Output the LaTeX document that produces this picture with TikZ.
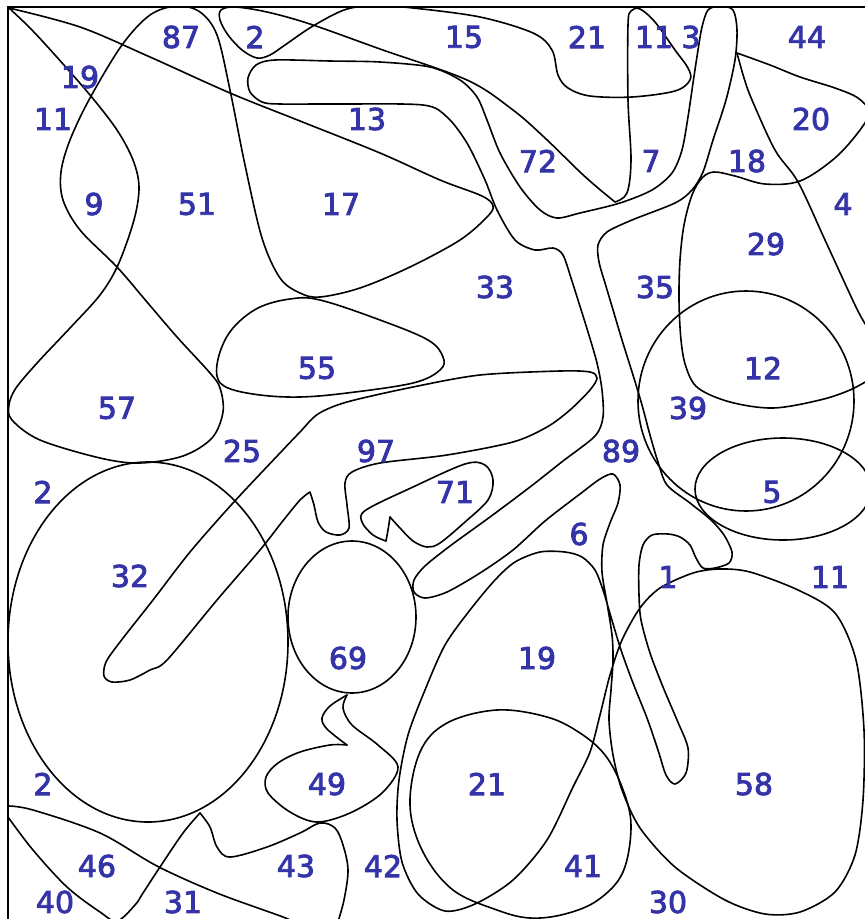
\documentclass[tikz,border=0pt]{standalone}
\usepackage{fontspec}
\setmainfont{DejaVu Sans}
\newfontfamily\labfont{DejaVu Sans}[FakeBold=2.8]
\definecolor{lbl}{RGB}{52,52,168}
\begin{document}
\begin{tikzpicture}[x=1pt,y=-1pt,
  curve/.style={line width=1.6pt, line join=round, line cap=round},
  lab/.style={text=lbl, font=\labfont\fontsize{30}{30}\selectfont, inner sep=0pt}]
\useasboundingbox (0,0) rectangle (865,919);
\fill[white] (0,0) rectangle (865,919);
\begin{scope}
\clip (8,7) rectangle (866,921);
% C1 big left curve
\draw[curve] plot[smooth, tension=0.55] coordinates {(9,8) (30,28) (55,55) (90,95) (117,130) (133,160) (139,187) (134,220) (118,265) (100,295) (70,328) (38,362) (16,388) (9,405) (12,420) (40,440) (100,458) (140,463) (183,456) (212,438) (223,412) (220,388) (210,373) (177,337) (147,302) (117,267) (80,230) (63,200) (61,172) (70,140) (90,98) (122,45) (150,15) (177,6) (200,12) (217,35) (230,90) (245,165) (262,238) (280,278) (300,293) (320,297) (360,288) (410,267) (460,240) (487,217) (493,206) (482,196) (440,180) (380,153) (300,121) (230,93) (150,57) (80,27) (9,8)};
% C2 15 shape
\draw[curve] plot[smooth, tension=0.55] coordinates {(615,202) (598,188) (580,172) (545,138) (513,110) (467,80) (380,49) (310,24) (267,12) (235,7) (221,10) (220,20) (228,35) (242,50) (257,58) (270,55) (285,45) (313,26) (347,9) (380,6) (413,8) (480,17) (533,33) (552,50) (558,75) (568,88) (590,96) (632,97) (675,91) (690,80) (688,68) (675,50) (655,22) (640,9) (631,11) (628,25) (628,100) (631,160) (627,193) (615,202)};
% C3 tube
\draw[curve] plot[smooth cycle, tension=0.5] coordinates {(720,6) (733,10) (737,30) (735,60) (726,100) (713,140) (703,172) (692,190) (675,203) (632,220) (607,232) (598,245) (599,262) (605,283) (611,303) (622,340) (633,375) (642,405) (650,435) (658,462) (667,485) (690,503) (711,520) (724,535) (732,552) (729,563) (715,568) (703,568) (696,558) (690,545) (680,537) (668,534) (652,535) (643,545) (639,565) (639,595) (641,620) (650,653) (663,687) (677,720) (688,748) (686,773) (675,784) (666,775) (658,750) (647,718) (633,683) (621,650) (611,617) (603,590) (595,570) (582,557) (565,552) (540,552) (515,562) (495,580) (470,610) (445,645) (425,690) (408,735) (399,780) (397,820) (402,862) (418,894) (445,911) (475,904) (513,880) (547,840) (573,787) (590,752) (600,715) (610,675) (622,640) (640,608) (660,588) (693,573) (720,569) (750,572) (798,590) (835,613) (856,660) (864,730) (863,800) (855,855) (835,892) (800,912) (765,914) (725,900) (675,867) (640,828) (622,790) (613,755) (609,720) (611,690) (613,660) (612,635) (607,603) (602,572) (603,545) (610,523) (618,503) (620,485) (613,474) (600,479) (580,494) (545,521) (513,550) (480,573) (447,592) (425,598) (414,592) (414,580) (425,566) (450,546) (490,517) (530,487) (563,461) (595,436) (603,417) (602,390) (597,363) (588,332) (578,300) (571,278) (563,255) (553,248) (535,250) (515,240) (497,210) (485,180) (467,143) (447,117) (423,105) (340,104) (280,104) (262,102) (250,92) (248,78) (256,65) (275,60) (330,61) (380,62) (430,67) (460,80) (477,97) (487,120) (500,153) (520,187) (540,210) (557,218) (580,213) (620,203) (652,190) (672,173) (682,150) (688,117) (693,83) (698,50) (702,27) (708,10)};
% C4 20/29
\draw[curve] plot[smooth, tension=0.55] coordinates {(737,53) (770,65) (800,77) (835,88) (858,98) (869,112) (860,130) (835,158) (800,181) (765,184) (735,176) (714,172) (702,178) (692,195) (684,225) (680,260) (679,300) (681,340) (686,367) (698,388) (730,402) (773,408) (820,400) (850,390) (872,378)};
% C5 diagonal
\draw[curve] plot[smooth, tension=0.55] coordinates {(737,53) (744,78) (752,100) (775,150) (798,182) (825,240) (848,290) (860,315) (872,335)};
% C6 55
\draw[curve] plot[smooth cycle, tension=0.6] coordinates {(443,357) (440,370) (413,383) (347,393) (300,397) (260,395) (228,388) (217,376) (220,352) (233,328) (258,308) (290,299) (320,300) (380,320) (428,340)};
% C7 12 circle
\draw[curve] (746,401) ellipse [x radius=108pt, y radius=110pt];
% C8 5 ellipse
\draw[curve] (783,489) ellipse [x radius=88pt, y radius=51pt];
% C10 32
\draw[curve] (148,642) ellipse [x radius=140pt, y radius=180pt];
% C11 69
\draw[curve] (352,617) ellipse [x radius=64pt, y radius=76pt];
% C12 71
\draw[curve] plot[smooth, tension=0.5] coordinates {(390,517) (388,530) (386,541)};
\draw[curve] plot[smooth, tension=0.55] coordinates {(386,541) (373,535) (362,522) (366,510) (413,487) (465,464) (485,465) (493,480) (488,500) (465,522) (440,543) (427,547) (413,541) (400,528) (390,517)};
% C13 49
\draw[curve] plot[smooth, tension=0.55] coordinates {(347,745) (330,745) (300,752) (278,763) (266,777) (268,793) (290,812) (317,822) (350,813) (382,793) (398,767) (378,745) (352,725) (343,708) (347,695)};
\draw[curve] plot[smooth, tension=0.55] coordinates {(347,695) (330,706) (322,718) (327,729) (347,745)};
% C14 21
\draw[curve] plot[smooth cycle, tension=0.6] coordinates {(497,710) (547,717) (580,733) (605,755) (622,787) (631,825) (623,872) (598,900) (565,914) (530,918) (497,910) (453,890) (423,852) (410,805) (420,752) (447,723)};
% C15 bottom-left line
\draw[curve] plot[smooth, tension=0.55] coordinates {(8,806) (33,810) (100,833) (157,866) (217,893) (283,917) (300,925)};
% C16
\draw[curve] plot[smooth, tension=0.55] coordinates {(8,817) (33,850) (67,887) (100,912) (117,921) (135,905) (143,893) (160,867) (183,833) (200,813)};
\draw[curve] plot[smooth, tension=0.55] coordinates {(200,813) (210,827) (217,847) (230,857) (267,847) (300,833) (320,823) (335,828) (343,845) (348,870) (344,900) (337,925)};
% C17 97 tube
\draw[curve] plot[smooth, tension=0.5] coordinates {(310,492) (314,505) (318,522) (326,532) (340,535) (349,528) (347,505) (345,483) (352,472) (380,463) (447,455) (513,442) (547,427) (570,410) (590,390) (597,378) (590,372) (560,371) (480,375) (413,387) (347,402) (318,414) (300,432) (280,453) (233,503) (190,552) (153,600) (120,642) (106,662) (104,676) (112,682) (130,680) (150,670) (167,660) (217,600) (260,550) (282,522) (300,500) (310,492)};
\end{scope}
\draw[line width=1.8pt] (8,921) -- (8,7) -- (866,7);
% labels
\node[lab] (l87) at (181,37) {87};
\node[lab] (l2a) at (255,37) {2};
\node[lab] (l15) at (464,37) {15};
\node[lab] (l21a) at (587,37) {21};
\node[lab] (l11a) at (654,37) {11};
\node[lab] (l3) at (691,37) {3};
\node[lab] (l44) at (807,37) {44};
\node[lab] (l19a) at (80,77) {19};
\node[lab] (l11b) at (53,119) {11};
\node[lab] (l13) at (367,119) {13};
\node[lab] (l20) at (811,119) {20};
\node[lab] (l72) at (538,161) {72};
\node[lab] (l7) at (651,161) {7};
\node[lab] (l18) at (747,161) {18};
\node[lab] (l9) at (94,204) {9};
\node[lab] (l51) at (197,204) {51};
\node[lab] (l17) at (341,204) {17};
\node[lab] (l4) at (843,204) {4};
\node[lab] (l29) at (766,244) {29};
\node[lab] (l33) at (495,287) {33};
\node[lab] (l35) at (655,287) {35};
\node[lab] (l55) at (317,368) {55};
\node[lab] (l12) at (763,368) {12};
\node[lab] (l57) at (117,408) {57};
\node[lab] (l39) at (688,408) {39};
\node[lab] (l25) at (242,451) {25};
\node[lab] (l97) at (376,451) {97};
\node[lab] (l89) at (621,451) {89};
\node[lab] (l71) at (455,492) {71};
\node[lab] (l2b) at (43,492) {2};
\node[lab] (l5) at (772,492) {5};
\node[lab] (l6) at (579,534) {6};
\node[lab] (l32) at (130,576) {32};
\node[lab] (l1) at (668,577) {1};
\node[lab] (l11c) at (830,577) {11};
\node[lab] (l69) at (348,658) {69};
\node[lab] (l19b) at (537,658) {19};
\node[lab] (l2c) at (43,784) {2};
\node[lab] (l49) at (327,784) {49};
\node[lab] (l21b) at (487,784) {21};
\node[lab] (l58) at (754,784) {58};
\node[lab] (l46) at (97,866) {46};
\node[lab] (l43) at (296,866) {43};
\node[lab] (l42) at (383,866) {42};
\node[lab] (l41) at (583,866) {41};
\node[lab] (l40) at (55,902) {40};
\node[lab] (l31) at (183,902) {31};
\node[lab] (l30) at (668,902) {30};
\end{tikzpicture}
\end{document}
